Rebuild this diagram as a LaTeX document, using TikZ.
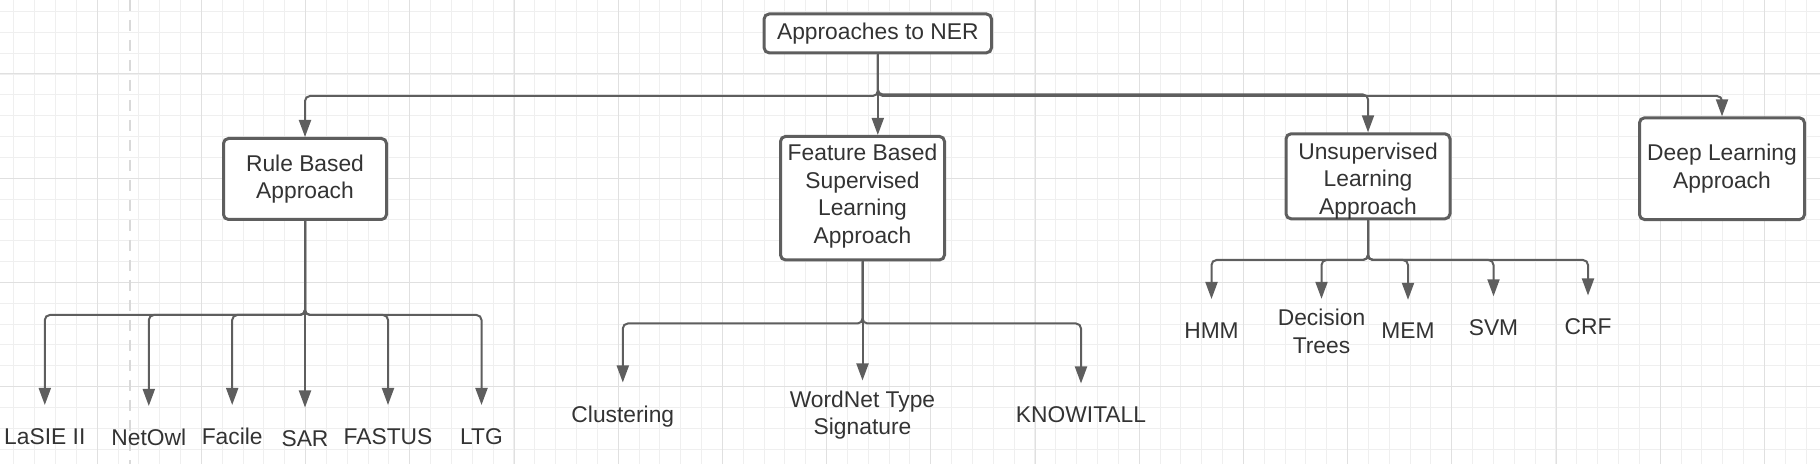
\documentclass[tikz,border=0pt]{standalone}
\usepackage{fontspec}
\setmainfont{Liberation Sans}
\usetikzlibrary{arrows.meta}
\definecolor{linea}{HTML}{5E5E5E}
\definecolor{testo}{HTML}{333333}
\definecolor{gridmin}{HTML}{EFEFEF}
\definecolor{gridmag}{HTML}{E0E0E0}
\definecolor{guida}{HTML}{D9D9D9}

\begin{document}
\begin{tikzpicture}[x=0.5pt,y=-0.5pt,>={Triangle[length=8.5pt,width=6pt]},
	box/.style={draw=linea,line width=1.5pt,rounded corners=2.5pt,fill=white,align=center,inner sep=0pt,text=testo,font=\fontsize{11.4}{13.75}\selectfont},
	lbl/.style={anchor=north,inner sep=0pt,align=center,text=testo,font=\fontsize{11.4}{13.75}\selectfont},
	conn/.style={->,draw=linea,line width=1pt,rounded corners=2.5pt},
	tolbl/.style={conn,shorten >=11.5pt},
	tolbltwo/.style={conn,shorten >=5pt}]
	\useasboundingbox (0,0) rectangle (1820,464);
	\clip (0,0) rectangle (1820,464);
	%Griglia
	\foreach \i in {0,...,86}
	{\draw [gridmin, line width=0.5pt] ({13.8+20.84*\i},0) -- ({13.8+20.84*\i},464);}
	\foreach \j in {0,...,21}
	{\draw [gridmin, line width=0.5pt] (0,{11.5+20.84*\j}) -- (1820,{11.5+20.84*\j});}
	\foreach \i in {0,...,16}
	{\draw [gridmag, line width=0.5pt] ({97.2+104.2*\i},0) -- ({97.2+104.2*\i},464);}
	\foreach \j in {0,...,3}
	{\draw [gridmag, line width=0.5pt] (0,{74+104.2*\j}) -- (1820,{74+104.2*\j});}
	\draw [guida, line width=1pt, dash pattern=on 5.5pt off 4.5pt] (130,0) -- (130,464);
	%Radice
	\node [box, minimum width=113.7pt, minimum height=19.4pt] (root) at (877.8,33.4) {Approaches to NER};
	%Approcci
	\node [box, minimum width=81.5pt, minimum height=40.5pt] (rule) at (305,179) {Rule Based\\Approach};
	\node [box, minimum width=82pt, minimum height=61.75pt] (feat) at (862.5,198.2) {Feature Based\\Supervised\\Learning\\Approach\rule[-4.7pt]{0pt}{0pt}};
	\node [box, minimum width=82pt, minimum height=40.25pt] (unsup) at (1368,176.3) {\rule{0pt}{12.6pt}Unsupervised\\Learning\\Approach};
	\node [box, minimum width=82.5pt, minimum height=50.85pt] (deep) at (1722,168.7) {Deep Learning\\Approach};
	\coordinate (rootbus) at (877.8,96);
	\coordinate (unsupbus) at (877.8,94.5);
	\draw [conn] (root.south) -- (rootbus) -| (rule.north);
	\draw [conn] (root.south) -- (root.south |- feat.north);
	\draw [conn] (root.south) -- (unsupbus) -| (unsup.north);
	\draw [conn] (root.south) -- (rootbus) -| (deep.north);
	%Sistemi a regole
	\node [lbl] (lasie) at (44.8,428) {LaSIE II};
	\node [lbl] (netowl) at (148.8,429) {NetOwl};
	\node [lbl] (facile) at (232.2,428) {Facile};
	\node [lbl] (sar) at (305,430.5) {SAR};
	\node [lbl] (fastus) at (388,428) {FASTUS};
	\node [lbl] (ltg) at (481.5,428) {LTG};
	\coordinate (rulebus) at (305,315);
	\foreach \k in {lasie,netowl,facile,fastus,ltg}
	{\draw [tolbl] (rule.south) -- (rulebus) -| (\k.north);}
	\draw [tolbl] (rule.south) -- (sar.north);
	%Supervisionati
	\node [lbl] (clust) at (622.8,405.5) {Clustering};
	\node [lbl] (wordnet) at (862.5,390.5) {WordNet Type\\Signature};
	\node [lbl] (know) at (1081,406.5) {KNOWITALL};
	\coordinate (featbus) at (862.5,323.5);
	\draw [tolbl] (feat.south) -- (featbus) -| (clust.north);
	\draw [tolbltwo] (feat.south) -- (wordnet.north);
	\draw [tolbl] (feat.south) -- (featbus) -| (know.north);
	%Non supervisionati
	\node [lbl] (hmm) at (1211.5,322) {HMM};
	\node [lbl] (dtree) at (1321.5,308.8) {Decision\\Trees};
	\node [lbl] (mem) at (1408,322.8) {MEM};
	\node [lbl] (svm) at (1493.5,319.3) {SVM};
	\node [lbl] (crf) at (1588,318.5) {CRF};
	\coordinate (unsupkids) at (1368,260);
	\foreach \k in {hmm,mem,svm,crf}
	{\draw [tolbl] (unsup.south) -- (unsupkids) -| (\k.north);}
	\draw [tolbltwo] (unsup.south) -- (unsupkids) -| (dtree.north);
\end{tikzpicture}
\end{document}
